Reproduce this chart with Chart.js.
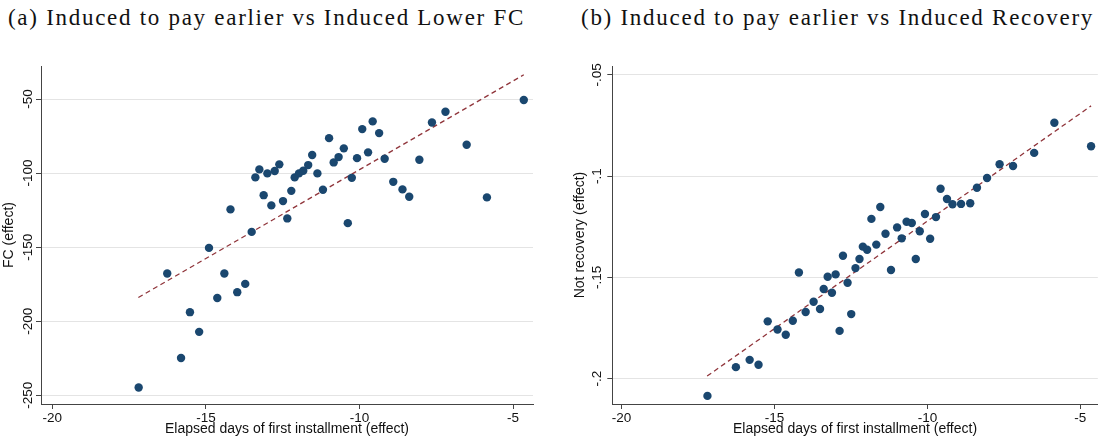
<!DOCTYPE html>
<html>
<head>
<meta charset="utf-8">
<script src="https://cdn.jsdelivr.net/npm/chart.js@4.4.1/dist/chart.umd.min.js"></script>
<style>
  body { margin: 0; background: #fff; width: 1102px; height: 445px; position: relative; overflow: hidden; }
  .titulo { position: absolute; top: 4px; font-family: "Liberation Serif", serif; font-size: 21px; color: #111; white-space: nowrap; line-height: 30px; }
  canvas { position: absolute; top: 40px; }
</style>
</head>
<body>
<div class="titulo" id="tituloA" style="left:8px">(a) Induced to pay earlier vs Induced Lower FC</div>
<div class="titulo" id="tituloB" style="left:581px">(b) Induced to pay earlier vs Induced Recovery</div>
<canvas id="chartFC" width="551" height="405" style="left:0px"></canvas>
<canvas id="chartRecovery" width="542" height="405" style="left:560px"></canvas>
<script>
// bins (elapsed days of first installment), same for both panels
const diasBins = [-17.19, -16.26, -15.81, -15.52, -15.22, -14.90, -14.63, -14.40, -14.20, -13.98,
  -13.72, -13.51, -13.39, -13.26, -13.12, -13.00, -12.87, -12.76, -12.61, -12.49,
  -12.35, -12.22, -12.11, -11.97, -11.83, -11.67, -11.54, -11.37, -11.19, -10.99,
  -10.84, -10.68, -10.51, -10.38, -10.25, -10.08, -9.91, -9.72, -9.57, -9.36,
  -9.18, -8.90, -8.60, -8.38, -8.05, -7.64, -7.20, -6.51, -5.85, -4.65];

// panel (a) FC effect
const efectoFC = [-244.8, -167.8, -224.8, -193.9, -207.2, -150.5, -184.3, -167.8, -124.5, -180.4,
  -174.8, -139.7, -102.9, -97.5, -114.9, -100.2, -121.8, -98.6, -94.1, -118.9,
  -130.6, -112.0, -102.9, -100.2, -98.4, -94.6, -87.8, -100.2, -111.3, -76.4,
  -92.8, -89.2, -83.3, -133.8, -103.2, -89.9, -70.3, -86.0, -65.1, -73.0,
  -90.3, -105.9, -111.0, -116.0, -91.0, -65.8, -58.6, -80.9, -116.4, -50.7];

// panel (b) not recovery effect
const efectoRecovery = [-0.2085, -0.1943, -0.1907, -0.1931, -0.1717, -0.1757, -0.1783, -0.1714, -0.1476, -0.1671,
  -0.1620, -0.1656, -0.1557, -0.1497, -0.1576, -0.1485, -0.1764, -0.1393, -0.1526, -0.1681,
  -0.1454, -0.1409, -0.1348, -0.1363, -0.1211, -0.1338, -0.1152, -0.1284, -0.1463, -0.1253,
  -0.1307, -0.1225, -0.1231, -0.1409, -0.1272, -0.1187, -0.1309, -0.1202, -0.1062, -0.1113,
  -0.1139, -0.1137, -0.1134, -0.1057, -0.1009, -0.0941, -0.0950, -0.0885, -0.0736, -0.0852];

// linear fit ends
const ajusteX = [-17.2, -4.65];
const ajusteFC = [-184.0, -33.6];
const ajusteRecovery = [-0.1987, -0.0653];

// ticks
const ticksX = [-20, -15, -10, -5];
const ticksXLabels = ['-20', '-15', '-10', '-5'];
const ticksFC = [-250, -200, -150, -100, -50];
const ticksFCLabels = ['-250', '-200', '-150', '-100', '-50'];
const ticksRecovery = [-0.2, -0.15, -0.1, -0.05];
const ticksRecoveryLabels = ['-.2', '-.15', '-.1', '-.05'];

const colorPunto = '#1a476f';
const colorAjuste = '#90353b';
const colorEje = '#444';

function hacerGrafico(canvasId, yVals, ajusteY, cfg) {
    const puntos = diasBins.map((d, i) => ({ x: d, y: yVals[i] }));
    const linea = ajusteX.map((d, i) => ({ x: d, y: ajusteY[i] }));

    return new Chart(document.getElementById(canvasId), {
        type: 'scatter',
        data: {
            datasets: [
                {
                    label: 'bins',
                    data: puntos,
                    backgroundColor: colorPunto,
                    borderWidth: 0,
                    pointRadius: 4.2,
                    pointHoverRadius: 4.2,
                },
                {
                    type: 'line',
                    label: 'fit',
                    data: linea,
                    borderColor: colorAjuste,
                    borderWidth: 1.3,
                    borderDash: [5, 3.5],
                    pointRadius: 0,
                    fill: false,
                },
            ],
        },
        options: {
            responsive: false,
            animation: false,
            devicePixelRatio: 1,
            layout: { padding: { top: 26, right: cfg.padRight, left: 0, bottom: 0 } },
            plugins: { legend: { display: false }, tooltip: { enabled: false } },
            scales: {
                x: {
                    type: 'linear',
                    min: cfg.xMin,
                    max: cfg.xMax,
                    afterBuildTicks: (s) => { s.ticks = ticksX.map(v => ({ value: v })); },
                    afterFit: (s) => { s.height = 41; },
                    border: { color: colorEje, width: 1 },
                    grid: { drawOnChartArea: false, tickLength: 5, tickColor: colorEje },
                    ticks: {
                        color: '#111',
                        padding: 1,
                        font: { family: 'Liberation Sans', size: 13.5 },
                        callback: (v) => ticksXLabels[ticksX.indexOf(v)],
                    },
                    title: {
                        display: true,
                        text: 'Elapsed days of first installment (effect)',
                        color: '#111',
                        padding: 7.6,
                        font: { family: 'Liberation Sans', size: 14 },
                    },
                },
                y: {
                    type: 'linear',
                    min: cfg.yMin,
                    max: cfg.yMax,
                    afterBuildTicks: (s) => { s.ticks = cfg.ticks.map(v => ({ value: v })); },
                    afterFit: (s) => { s.width = cfg.yWidth; },
                    border: { color: colorEje, width: 1 },
                    grid: { color: '#e4e4e4', lineWidth: 1, tickLength: 5, tickColor: colorEje },
                    ticks: {
                        color: '#111',
                        minRotation: 90,
                        maxRotation: 90,
                        crossAlign: 'center',
                        padding: cfg.tickPad,
                        font: { family: 'Liberation Sans', size: 13.5 },
                        callback: (v) => cfg.labels[cfg.ticks.indexOf(v)],
                    },
                    title: {
                        display: true,
                        text: cfg.yTitle,
                        color: '#111',
                        padding: cfg.titlePad,
                        font: { family: 'Liberation Sans', size: 14 },
                    },
                },
            },
        },
    });
}

hacerGrafico('chartFC', efectoFC, ajusteFC, {
    xMin: -20.37, xMax: -4.35, yMin: -255.9, yMax: -27.7,
    ticks: ticksFC, labels: ticksFCLabels,
    yTitle: 'FC (effect)', yWidth: 41, tickPad: -5.5, titlePad: 0.6, padRight: 18,
});

hacerGrafico('chartRecovery', efectoRecovery, ajusteRecovery, {
    xMin: -20.30, xMax: -4.43, yMin: -0.2125, yMax: -0.0456,
    ticks: ticksRecovery, labels: ticksRecoveryLabels,
    yTitle: 'Not recovery (effect)', yWidth: 52.3, tickPad: -1.8, titlePad: 12.1, padRight: 1,
});

// the serif font here is narrower than the original one, so grow it a bit
// and use a little letter spacing for the rest
function ajustarTitulo(id, ancho) {
    const el = document.getElementById(id);
    const n = el.textContent.length;
    el.style.fontSize = '23px';
    el.style.top = '3px';
    const w = el.getBoundingClientRect().width;
    el.style.letterSpacing = ((ancho - w) / n) + 'px';
}
ajustarTitulo('tituloA', 517);
ajustarTitulo('tituloB', 513);
</script>
</body>
</html>
